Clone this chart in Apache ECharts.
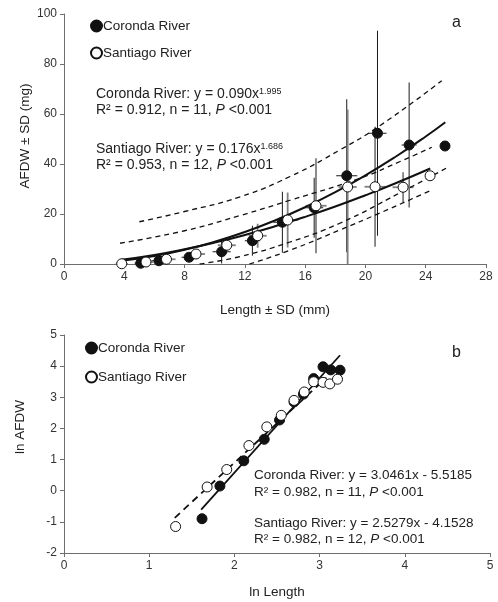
<!DOCTYPE html>
<html>
<head>
<meta charset="utf-8">
<script src="https://cdn.jsdelivr.net/npm/echarts@6/dist/echarts.min.js"></script>
<style>
html,body{margin:0;padding:0;background:#fff;}
#c{width:498px;height:602px;}
</style>
</head>
<body>
<div id="c"></div>
<script>
// ---------- Panel a: AFDW vs Length ----------
const corLenA   = [5.09, 6.3, 8.3, 10.46, 12.5, 14.49, 16.6, 18.76, 20.8, 22.9, 25.28];
const corAfdwA  = [0.3, 1.3, 2.7, 4.9, 9.3, 16.7, 22.5, 35.3, 52.3, 47.6, 47.2];
const corSdLen  = [0.4, 0.5, 0.5, 0.6, 0.5, 0.6, 0.6, 0.7, 0.6, 0.5, 0];
const corSdAfdw = [0.3, 0.8, 1.5, 4.7, 6, 12.2, 12, 30.6, 41, 25, 0];

const sanLenA   = [3.83, 5.44, 6.8, 8.76, 10.8, 12.85, 14.84, 16.72, 18.82, 20.64, 22.5, 24.29];
const sanAfdwA  = [0.1, 0.8, 1.9, 4.0, 7.5, 11.3, 17.6, 23.3, 30.8, 30.9, 30.7, 35.3];
const sanSdLen  = [0.4, 0.5, 0.6, 0.6, 0.6, 0.6, 0.7, 0.7, 0.6, 0.7, 0.7, 0];
const sanSdAfdw = [0.2, 0.5, 1, 2, 3, 4.8, 11, 19, 31, 24, 6, 0];

// fitted power curves
const corFitX = [3.8, 6, 8, 10, 12, 14, 16, 18, 20, 22, 24, 25.3];
const corFitY = [1.29, 3.21, 5.70, 8.90, 12.80, 17.41, 22.72, 28.74, 35.47, 42.9, 51.0, 56.7];
const sanFitX = [3.8, 6, 8, 10, 12, 14, 16, 18, 20, 22, 24.3];
const sanFitY = [1.67, 3.61, 5.86, 8.54, 11.62, 15.07, 18.87, 23.0, 27.5, 32.3, 38.2];

// dashed bands
const bandAX = [5.0, 8, 11.7, 15, 18.3, 21, 25.06];
const bandAY = [16.9, 21.0, 26.9, 35, 45.6, 55.5, 73.3];
const bandBX = [3.72, 8, 11.7, 15, 19.64, 22.3, 24.4];
const bandBY = [8.3, 13.3, 19.4, 25.5, 34.3, 41, 46.7];
const bandCX = [9.0, 11.7, 15, 18.3, 22.3, 25.35];
const bandCY = [0, 3, 8.8, 16.3, 28.5, 38.3];
const bandDX = [12.3, 15, 18.3, 21, 24.4];
const bandDY = [0, 5.5, 13.6, 20.5, 29.6];

const xTicksA = [0, 4, 8, 12, 16, 20, 24, 28];
const yTicksA = [0, 20, 40, 60, 80, 100];

// ---------- Panel b: ln AFDW vs ln Length ----------
const lnLenCor  = [1.62, 1.83, 2.11, 2.35, 2.53, 2.70, 2.81, 2.93, 3.04, 3.13, 3.24];
const lnAfdwCor = [-0.90, 0.15, 0.96, 1.65, 2.27, 2.85, 3.10, 3.60, 3.98, 3.88, 3.87];
const lnLenSan  = [1.31, 1.68, 1.91, 2.17, 2.38, 2.55, 2.70, 2.82, 2.93, 3.04, 3.12, 3.21];
const lnAfdwSan = [-1.15, 0.12, 0.68, 1.45, 2.05, 2.42, 2.90, 3.17, 3.50, 3.48, 3.43, 3.58];

const corLineX = [1.61, 3.24];
const corLineY = [-0.61, 4.35];
const sanLineX = [1.30, 3.08];
const sanLineY = [-0.87, 3.63];

const xTicksB = [0, 1, 2, 3, 4, 5];
const yTicksB = [-2, -1, 0, 1, 2, 3, 4, 5];

// ---------- build ----------
const FONT = '"Liberation Sans", Arial, sans-serif';
const zip = (a, b) => a.map((v, i) => [v, b[i]]);
const zip4 = (a, b, c, d) => a.map((v, i) => [v, b[i], c[i], d[i]]);

function errRender(color, width) {
  return function (params, api) {
    const x = api.value(0), y = api.value(1), sx = api.value(2), sy = api.value(3);
    const t = api.coord([x, y + sy]), b = api.coord([x, y - sy]);
    const l = api.coord([x - sx, y]), r = api.coord([x + sx, y]);
    const st = { stroke: color, lineWidth: width };
    const ch = [];
    if (sy > 0) ch.push({ type: 'line', shape: { x1: t[0], y1: t[1], x2: b[0], y2: b[1] }, style: st });
    if (sx > 0) ch.push({ type: 'line', shape: { x1: l[0], y1: l[1], x2: r[0], y2: r[1] }, style: st });
    return { type: 'group', children: ch };
  };
}

function axisCommon(min, max, interval) {
  return {
    type: 'value', min: min, max: max, interval: interval,
    splitLine: { show: false },
    axisLine: { show: true, onZero: false, lineStyle: { color: '#6e6e6e', width: 1 } },
    axisTick: { show: true, inside: false, length: 4, lineStyle: { color: '#6e6e6e' } },
    axisLabel: { color: '#333', fontSize: 12, fontFamily: FONT, margin: 7 }
  };
}

const filledStyle = { color: '#111', borderColor: '#111', borderWidth: 1, opacity: 1 };
const openStyle = { color: '#fff', borderColor: '#111', borderWidth: 1, opacity: 1 };

const rich = function (fs) {
  return {
    n: { fontSize: fs, fontFamily: FONT, fill: '#222', color: '#222' },
    it: { fontSize: fs, fontFamily: FONT, fontStyle: 'italic', fill: '#222', color: '#222' },
    sup: { fontSize: 9, fontFamily: FONT, verticalAlign: 'top', fill: '#222', color: '#222' }
  };
};

function txt(x, y, text, fs) {
  return {
    type: 'text', x: x, y: y,
    style: { text: text, rich: rich(fs), fontSize: fs, fontFamily: FONT, fill: '#222', verticalAlign: 'middle', align: 'left' }
  };
}

const option = {
  backgroundColor: '#fff',
  animation: false,
  grid: [
    { left: 64, top: 14, width: 422, height: 250 },
    { left: 64, top: 335, width: 426, height: 218 }
  ],
  xAxis: [
    Object.assign(axisCommon(xTicksA[0], xTicksA[xTicksA.length - 1], 4), { gridIndex: 0 }),
    Object.assign(axisCommon(xTicksB[0], xTicksB[xTicksB.length - 1], 1), { gridIndex: 1 })
  ],
  yAxis: [
    Object.assign(axisCommon(yTicksA[0], yTicksA[yTicksA.length - 1], 20), { gridIndex: 0 }),
    Object.assign(axisCommon(yTicksB[0], yTicksB[yTicksB.length - 1], 1), { gridIndex: 1 })
  ],
  legend: [
    {
      left: 85, top: 14, orient: 'vertical', itemGap: 13, itemWidth: 11, itemHeight: 11,
      data: [{ name: 'Coronda River', icon: 'circle' }, { name: 'Santiago River', icon: 'circle' }],
      textStyle: { fontSize: 13.5, fontFamily: FONT, color: '#222', padding: [0, 0, 0, -4] },
      selectedMode: false
    },
    {
      left: 80, top: 336, orient: 'vertical', itemGap: 15, itemWidth: 11, itemHeight: 11,
      data: [{ name: 'Coronda River', icon: 'circle' }, { name: 'Santiago River', icon: 'circle' }],
      textStyle: { fontSize: 13.5, fontFamily: FONT, color: '#222', padding: [0, 0, 0, -4] },
      selectedMode: false
    }
  ],
  series: [
    // error bars
    { type: 'custom', name: 'corErr', xAxisIndex: 0, yAxisIndex: 0, clip: true, z: 1,
      renderItem: errRender('#1a1a1a', 1), encode: { x: 0, y: 1 },
      data: zip4(corLenA, corAfdwA, corSdLen, corSdAfdw) },
    { type: 'custom', name: 'sanErr', xAxisIndex: 0, yAxisIndex: 0, clip: true, z: 1,
      renderItem: errRender('#808080', 1.8), encode: { x: 0, y: 1 },
      data: zip4(sanLenA, sanAfdwA, sanSdLen, sanSdAfdw) },
    // dashed bands
    ...[[bandAX, bandAY], [bandBX, bandBY], [bandCX, bandCY], [bandDX, bandDY]].map((b, i) => ({
      type: 'line', name: 'band' + i, xAxisIndex: 0, yAxisIndex: 0, smooth: true, symbol: 'none', clip: true, z: 2,
      lineStyle: { color: '#111', width: 1.3, type: [5, 4] }, data: zip(b[0], b[1])
    })),
    // fitted curves
    { type: 'line', name: 'corFit', xAxisIndex: 0, yAxisIndex: 0, smooth: true, symbol: 'none', z: 3,
      lineStyle: { color: '#111', width: 2 }, data: zip(corFitX, corFitY) },
    { type: 'line', name: 'sanFit', xAxisIndex: 0, yAxisIndex: 0, smooth: true, symbol: 'none', z: 3,
      lineStyle: { color: '#111', width: 2 }, data: zip(sanFitX, sanFitY) },
    // points a
    { type: 'scatter', name: 'Coronda River', xAxisIndex: 0, yAxisIndex: 0, symbol: 'circle', symbolSize: 10, z: 4,
      itemStyle: filledStyle, data: zip(corLenA, corAfdwA) },
    { type: 'scatter', name: 'Santiago River', xAxisIndex: 0, yAxisIndex: 0, symbol: 'circle', symbolSize: 10, z: 5,
      itemStyle: openStyle, data: zip(sanLenA, sanAfdwA) },
    // panel b lines
    { type: 'line', name: 'corLine', xAxisIndex: 1, yAxisIndex: 1, symbol: 'none', z: 3,
      lineStyle: { color: '#111', width: 1.8 }, data: zip(corLineX, corLineY) },
    { type: 'line', name: 'sanLine', xAxisIndex: 1, yAxisIndex: 1, symbol: 'none', z: 3,
      lineStyle: { color: '#111', width: 1.8, type: [7, 5] }, data: zip(sanLineX, sanLineY) },
    // points b
    { type: 'scatter', name: 'Coronda River', xAxisIndex: 1, yAxisIndex: 1, symbol: 'circle', symbolSize: 10, z: 4,
      itemStyle: filledStyle, data: zip(lnLenCor, lnAfdwCor) },
    { type: 'scatter', name: 'Santiago River', xAxisIndex: 1, yAxisIndex: 1, symbol: 'circle', symbolSize: 10, z: 5,
      itemStyle: openStyle, data: zip(lnLenSan, lnAfdwSan) }
  ],
  graphic: [
    txt(96, 94, '{n|Coronda River: y = 0.090x}{sup|1.995}', 14),
    txt(96, 110, '{n|R² = 0.912, n = 11, }{it|P}{n| <0.001}', 14),
    txt(96, 149, '{n|Santiago River: y = 0.176x}{sup|1.686}', 14),
    txt(96, 165, '{n|R² = 0.953, n = 12, }{it|P}{n| <0.001}', 14),
    txt(254, 475, '{n|Coronda River: y = 3.0461x - 5.5185}', 13.5),
    txt(254, 492, '{n|R² = 0.982, n = 11, }{it|P}{n| <0.001}', 13.5),
    txt(254, 523, '{n|Santiago River: y = 2.5279x - 4.1528}', 13.5),
    txt(254, 539, '{n|R² = 0.982, n = 12, }{it|P}{n| <0.001}', 13.5),
    { type: 'text', x: 452, y: 23, style: { text: 'a', fontSize: 16, fontFamily: FONT, fill: '#222', verticalAlign: 'middle' } },
    { type: 'text', x: 452, y: 353, style: { text: 'b', fontSize: 16, fontFamily: FONT, fill: '#222', verticalAlign: 'middle' } },
    { type: 'text', x: 275, y: 310, style: { text: 'Length ± SD (mm)', fontSize: 13.5, fontFamily: FONT, fill: '#222', align: 'center', verticalAlign: 'middle' } },
    { type: 'text', x: 277, y: 592, style: { text: 'ln Length', fontSize: 13.5, fontFamily: FONT, fill: '#222', align: 'center', verticalAlign: 'middle' } },
    { type: 'text', x: 25, y: 136, rotation: Math.PI / 2, style: { text: 'AFDW ± SD (mg)', fontSize: 13.5, fontFamily: FONT, fill: '#222', align: 'center', verticalAlign: 'middle' } },
    { type: 'text', x: 20, y: 427, rotation: Math.PI / 2, style: { text: 'ln AFDW', fontSize: 13.5, fontFamily: FONT, fill: '#222', align: 'center', verticalAlign: 'middle' } }
  ]
};

const chart = echarts.init(document.getElementById('c'), null, { renderer: 'canvas' });
chart.setOption(option);
</script>
</body>
</html>
